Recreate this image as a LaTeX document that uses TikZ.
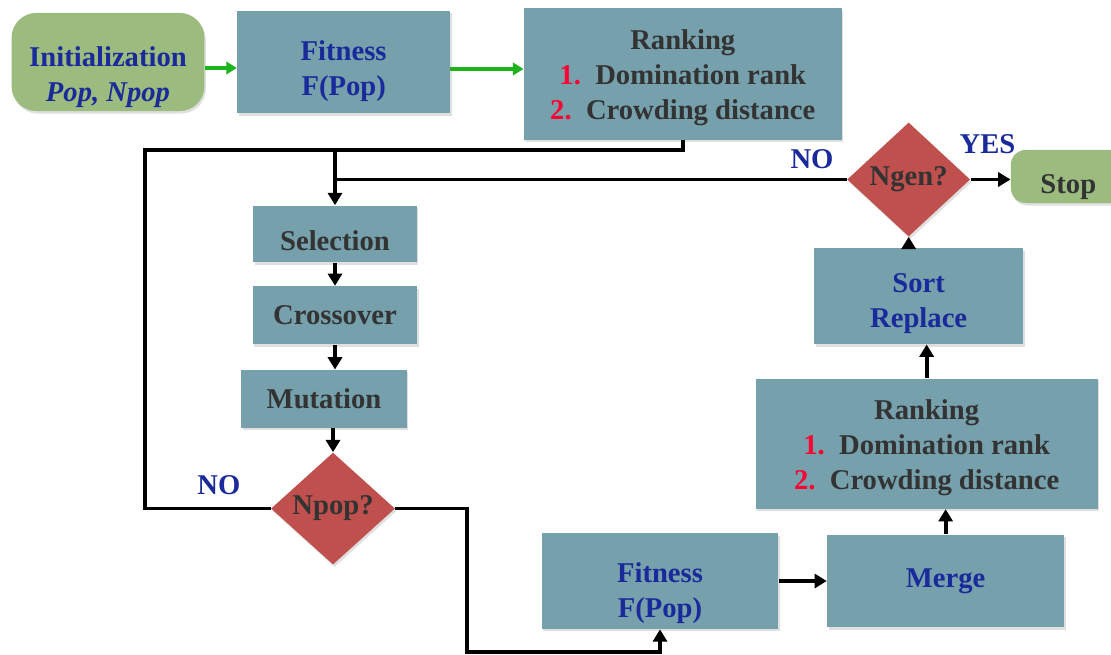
\documentclass[tikz,border=0pt]{standalone}
\usepackage{fontspec}
\setmainfont{Liberation Serif}
\usetikzlibrary{arrows.meta,shapes.geometric,positioning,shadows}
\usepackage{xcolor}
\definecolor{boxteal}{HTML}{75A0AC}
\definecolor{decred}{HTML}{C0504D}
\definecolor{termgreen}{HTML}{9CBB7F}
\definecolor{titleblue}{HTML}{1A2A9A}
\definecolor{darktext}{HTML}{333333}
\definecolor{numred}{HTML}{FF0033}
\definecolor{arrowgreen}{HTML}{1CB31C}
% strut to push the text of a box down
\newcommand{\pushdn}[1]{\rule{0pt}{#1}}

\begin{document}
\begin{tikzpicture}[
		x=0.02cm,y=-0.02cm,
		font=\fontsize{16.3}{20}\selectfont\bfseries,
		shade/.style={drop shadow={opacity=0.25,shadow xshift=0.03cm,shadow yshift=-0.05cm}},
		block/.style={rectangle,fill=boxteal,text=darktext,align=center,inner sep=2pt,shade},
		bluetxt/.style={text=titleblue},
		decision/.style={diamond,fill=decred,text=darktext,inner sep=0pt,shade},
		terminal/.style={rectangle,rounded corners=0.5cm,fill=termgreen,align=center,inner sep=2pt,shade},
		lbl/.style={text=titleblue,inner sep=0pt},
		line/.style={line width=2.2pt},
		arrow/.style={line,-{Triangle[length=7pt,width=8pt]}},
		garrow/.style={line width=1.8pt,arrowgreen,-{Triangle[length=6pt,width=7pt]}}
		]
		\useasboundingbox (0,0) rectangle (1111,655);
		\clip (0,0) rectangle (1111,655);
		
		% top row
		\node[terminal,text=titleblue,minimum width=3.86cm,minimum height=1.9cm] (init) at (108,62) {\pushdn{1.0cm}Initialization\\\textit{Pop, Npop}};
		\node[block,bluetxt,minimum width=4.26cm,minimum height=2.06cm,right=0.64cm of init] (fit1) {\pushdn{0.75cm}Fitness\\F(Pop)};
		\node[block,minimum width=6.36cm,minimum height=2.64cm,right=1.46cm of fit1,yshift=-0.24cm] (rank1) {\pushdn{0.55cm}Ranking\\\textcolor{numred}{1.}\ \ Domination rank\\\textcolor{numred}{2.}\ \ Crowding distance};
		
		% genetic operators
		\node[block,minimum width=3.28cm,minimum height=1.14cm] (sel) at (335,234) {\pushdn{0.67cm}Selection};
		\node[block,minimum width=3.3cm,minimum height=1.16cm,below=0.46cm of sel] (cross) {Crossover};
		\node[block,minimum width=3.32cm,minimum height=1.16cm,below=0.5cm of cross,xshift=-0.22cm] (mut) {Mutation};
		\node[decision,minimum width=2.48cm,minimum height=2.24cm,below=0.48cm of mut,xshift=0.18cm] (npop) {Npop?};
		
		% offspring evaluation
		\node[block,bluetxt,minimum width=4.74cm,minimum height=1.92cm] (fit2) at (660,581) {\pushdn{0.87cm}Fitness\\F(Pop)};
		\node[block,bluetxt,minimum width=4.74cm,minimum height=1.86cm,right=0.96cm of fit2] (merge) {Merge};
		\node[block,minimum width=6.84cm,minimum height=2.6cm,above=0.5cm of merge,xshift=-0.38cm] (rank2) {\pushdn{0.55cm}Ranking\\\textcolor{numred}{1.}\ \ Domination rank\\\textcolor{numred}{2.}\ \ Crowding distance};
		\node[block,bluetxt,minimum width=4.18cm,minimum height=1.92cm,above=0.68cm of rank2,xshift=-0.16cm] (sort) {\pushdn{0.67cm}Sort\\Replace};
		\node[decision,minimum width=2.46cm,minimum height=2.28cm,above=0.22cm of sort,xshift=-0.2cm] (ngen) {Ngen?};
		\node[terminal,text=darktext,minimum width=2.3cm,minimum height=1.04cm,rounded corners=0.3cm,right=0.8cm of ngen,yshift=0.06cm] (stop) {\pushdn{0.8cm}Stop};
		
		% labels
		\node[lbl,above left=0.2cm and 0.26cm of ngen.west] (no2) {NO};
		\node[lbl,above=0.5cm of ngen.east,xshift=0.34cm] (yes) {YES};
		\node[lbl,above left=0.26cm and 0.6cm of npop.west] (no1) {NO};
		
		% junctions
		\coordinate (jn) at (335,150);
		\coordinate (lft) at (145,150);
		\coordinate (rt) at (467,652);
		
		% green arrows
		\draw[garrow] ([yshift=-0.12cm]init.east) -- ([yshift=-0.12cm]init.east -| fit1.west);
		\draw[garrow] ([yshift=-0.14cm]fit1.east) -- ([yshift=-0.14cm]fit1.east -| rank1.west);
		
		% main loop
		\draw[line] (rank1.south) |- (jn);
		\draw[arrow] (jn) -- (sel.north);
		\draw[arrow] (sel) -- (sel |- cross.north);
		\draw[arrow] (cross) -- (cross |- mut.north);
		\draw[arrow] (mut.south -| npop.north) -- (npop.north);
		\draw[line] (npop.west) -| (lft) -- (jn);
		\draw[arrow] (npop.east) -| (rt) -| (fit2.south);
		\draw[arrow] (fit2.east) -- (merge.west);
		\draw[arrow] (merge.north) -- (merge.north |- rank2.south);
		\draw[arrow] (rank2.north) -- (rank2.north |- sort.south);
		\draw[arrow] (sort.north -| ngen.south) -- (ngen.south);
		\draw[line] (ngen.west) -- (ngen.west -| jn);
		\draw[arrow] (ngen.east) -- (ngen.east -| stop.west);
		
\end{tikzpicture}
\end{document}
